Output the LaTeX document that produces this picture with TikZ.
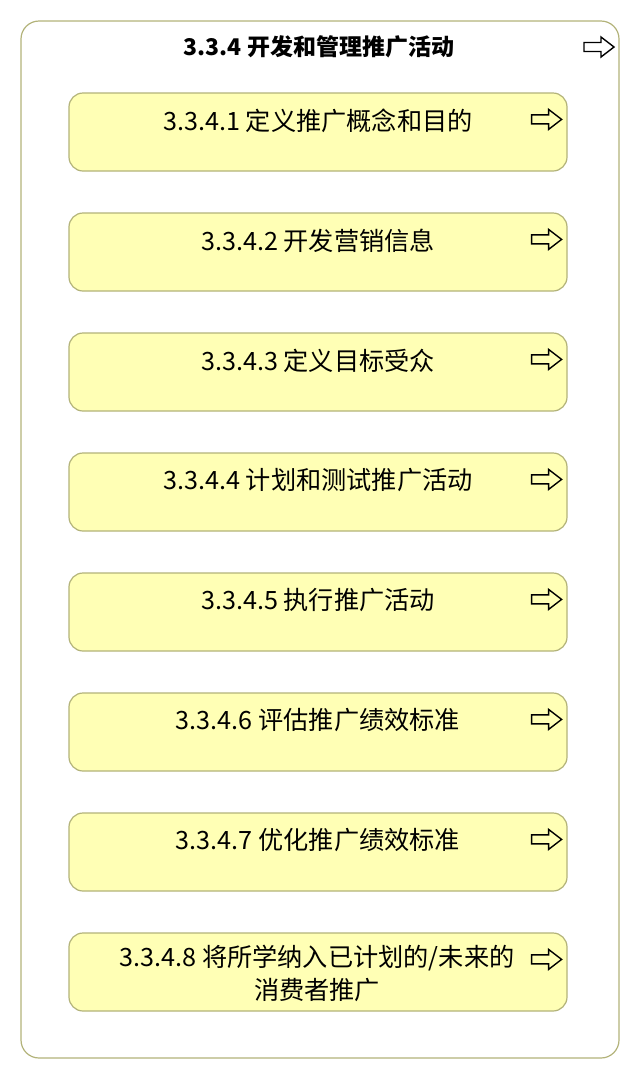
\documentclass[tikz,border=0pt]{standalone}
\usepackage{fontspec}
\usepackage{tikz}
\usetikzlibrary{positioning}
\newfontfamily\cjk{Noto Sans CJK SC}
\definecolor{boxfill}{HTML}{FFFFB5}
\definecolor{boxline}{HTML}{B3B37A}
\tikzset{
	x=1pt, y=-1pt,
	node distance=120pt,
	on grid,
	frame/.style={draw=boxline, line width=1.2pt, fill=white, rounded corners=18pt},
	task/.style={draw=boxline, line width=1.2pt, fill=boxfill, rounded corners=14pt,
		minimum width=498pt, minimum height=78pt, inner sep=0pt},
	tasklabel/.style={font=\cjk\fontsize{25.2}{33}\selectfont, inner sep=0pt, align=center},
	openarrow/.pic={
		\draw[black, line width=1.4pt, line join=miter]
			(-15,-4.5) -- (2,-4.5) -- (2,-10) -- (15,0) -- (2,10) -- (2,4.5) -- (-15,4.5) -- cycle;
	},
}

\begin{document}
\begin{tikzpicture}
      \useasboundingbox (0,0) rectangle (640,1080);
      \draw[frame] (21,21) rectangle (619,1058);
      \node[font=\cjk\bfseries\fontsize{23}{26}\selectfont, inner sep=0pt] (title) at (319,47) {3.3.4 开发和管理推广活动};
      \pic at (599,47) {openarrow};

      % the eight steps
      \node[task] (t1) at (318,132) {};
      \node[task, below=of t1] (t2) {};
      \node[task, below=of t2] (t3) {};
      \node[task, below=of t3] (t4) {};
      \node[task, below=of t4] (t5) {};
      \node[task, below=of t5] (t6) {};
      \node[task, below=of t6] (t7) {};
      \node[task, below=of t7] (t8) {};

      \node[tasklabel] (l1) at ([yshift=-28pt]t1.north) {3.3.4.1 定义推广概念和目的};
      \node[tasklabel] (l2) at ([yshift=-28pt]t2.north) {3.3.4.2 开发营销信息};
      \node[tasklabel] (l3) at ([yshift=-28pt]t3.north) {3.3.4.3 定义目标受众};
      \node[tasklabel] (l4) at ([yshift=-28pt]t4.north) {3.3.4.4 计划和测试推广活动};
      \node[tasklabel] (l5) at ([yshift=-28pt]t5.north) {3.3.4.5 执行推广活动};
      \node[tasklabel] (l6) at ([yshift=-28pt]t6.north) {3.3.4.6 评估推广绩效标准};
      \node[tasklabel] (l7) at ([yshift=-28pt]t7.north) {3.3.4.7 优化推广绩效标准};
      \begin{scope}
        \clip (69,933) rectangle (567,1005);
        \node[tasklabel, anchor=north] (l8) at ([yshift=-12pt, xshift=-1pt]t8.north) {3.3.4.8 将所学纳入已计划的/未来的\\消费者推广};
      \end{scope}

      \foreach \i in {1,...,8}
        \pic at ([xshift=-21pt, yshift=-27pt]t\i.north east) {openarrow};
\end{tikzpicture}
\end{document}
